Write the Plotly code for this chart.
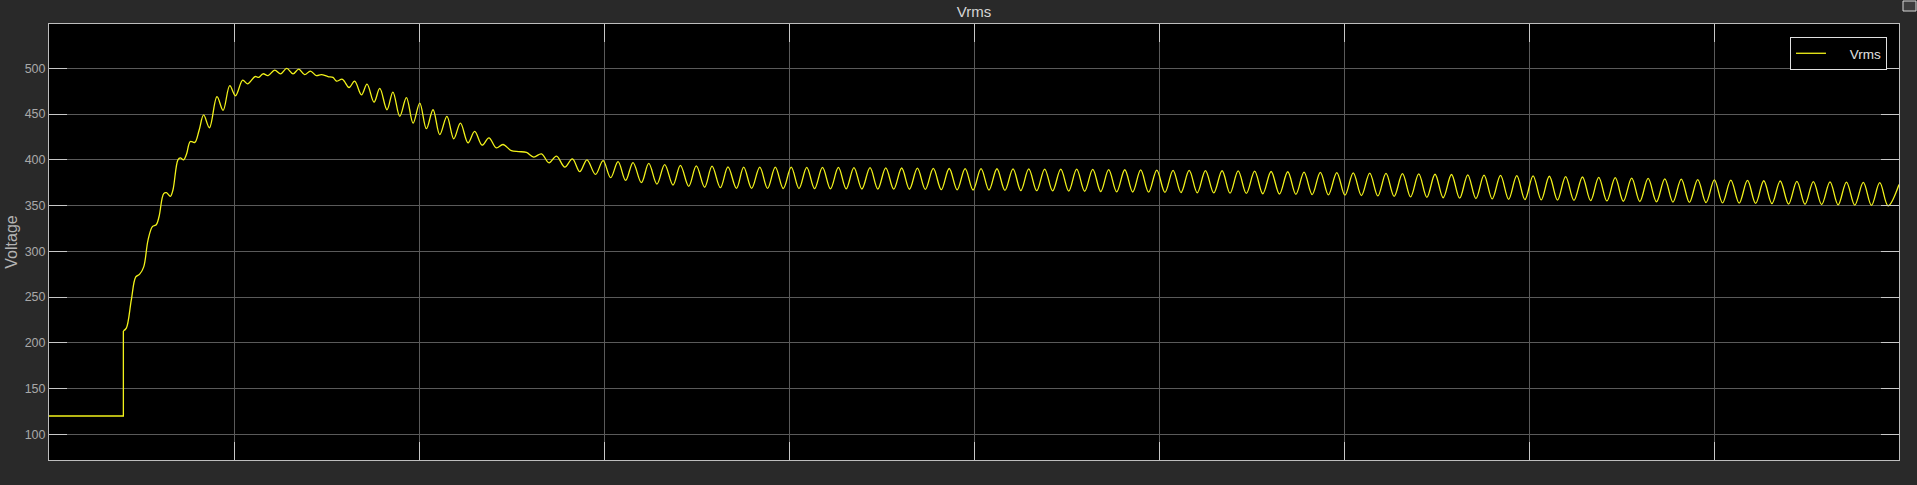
import plotly.graph_objects as go

# ---------------- data ----------------
initial_t = [0.0, 0.402]
initial_v = [120, 120]

rise_t = [0.402, 0.418, 0.445, 0.469, 0.490, 0.512, 0.535, 0.559, 0.580, 0.595,
          0.620, 0.635, 0.656, 0.670, 0.697, 0.710, 0.728, 0.743, 0.764, 0.788,
          0.811, 0.836, 0.867, 0.908, 0.941, 0.977, 1.008, 1.047, 1.073, 1.114,
          1.134, 1.157, 1.184, 1.220, 1.252, 1.285, 1.319, 1.350, 1.382, 1.413,
          1.445, 1.472, 1.508, 1.535]
rise_v = [213, 216, 247, 272, 275, 283, 312, 327, 329, 338,
          363, 364, 360, 367, 400, 402, 400, 406, 420, 419,
          432, 449, 435, 469, 454, 481, 470, 487, 483, 491,
          490, 494, 492, 498, 494, 500, 494, 499, 493, 497,
          492, 493, 491, 490]

decay_t = [1.554, 1.586, 1.622, 1.652, 1.689, 1.719, 1.757, 1.788, 1.827, 1.859,
           1.896, 1.932, 1.968, 2.004, 2.040, 2.076, 2.112, 2.151, 2.188, 2.224,
           2.265, 2.301, 2.341, 2.378, 2.418, 2.454, 2.499, 2.539, 2.581, 2.620,
           2.662, 2.703, 2.743, 2.788, 2.829, 2.869, 2.908, 2.954, 2.995, 3.036,
           3.076, 3.117, 3.157, 3.202, 3.242, 3.286, 3.328, 3.373, 3.413, 3.458,
           3.499, 3.544, 3.584, 3.629, 3.670, 3.716]
decay_v = [486, 488, 479, 486, 471, 482.6, 463, 478, 454.7, 474,
           447.5, 468, 440, 462, 434, 454.7, 427.5, 447.5, 423, 440,
           418.5, 431, 416, 424, 413, 416.7, 410, 409, 408, 403,
           406.5, 396.7, 404, 392, 401, 387, 400, 384, 399, 380.4,
           398, 377.5, 397, 375, 396, 373.5, 394.8, 372.4, 394, 371,
           393.3, 370, 393, 369.5, 392.2, 368.8]

peak_t = [3.755, 3.842, 3.926, 4.012, 4.096,
          4.181, 4.267, 4.351, 4.438, 4.523, 4.609, 4.694,
          4.780, 4.866, 4.952, 5.038, 5.124, 5.211, 5.296, 5.382, 5.469, 5.555,
          5.642, 5.728, 5.815, 5.901, 5.988, 6.076, 6.163, 6.251, 6.341,
          6.428, 6.517, 6.606, 6.696, 6.784, 6.872, 6.961, 7.050, 7.139,
          7.227, 7.316, 7.404, 7.492, 7.581, 7.669, 7.757, 7.846, 7.934,
          8.022, 8.110, 8.198, 8.289, 8.377, 8.466, 8.555, 8.644, 8.734, 8.823,
          8.912, 9.002, 9.091, 9.181, 9.269, 9.358, 9.448, 9.537, 9.627, 9.716, 9.807, 9.896]
peak_v = [392.0, 392.0, 392.0, 391.9, 391.8,
          391.7, 391.6, 391.5, 391.4, 391.2, 391.0, 390.8,
          390.6, 390.5, 390.4, 390.3, 390.2, 390.1, 390.0, 389.9, 389.8, 389.7,
          389.5, 389.3, 389.1, 388.9, 388.7, 388.5, 388.4, 388.2, 388.0,
          387.8, 387.5, 387.2, 386.9, 386.6, 386.3, 386.0, 385.7, 385.4,
          385.1, 384.8, 384.5, 384.2, 383.9, 383.6, 383.3, 383.0, 382.7,
          382.4, 382.0, 381.6, 381.2, 380.8, 380.4, 380.0, 379.6, 379.2, 378.8,
          378.4, 378.0, 377.7, 377.4, 377.1, 376.8, 376.5, 376.2, 375.9, 375.6, 375.3, 375.0]

trough_t = [3.798, 3.884, 3.969, 4.054, 4.138,
            4.224, 4.309, 4.394, 4.480, 4.566, 4.651, 4.737,
            4.823, 4.909, 4.995, 5.081, 5.167, 5.253, 5.339, 5.425, 5.512, 5.598,
            5.685, 5.771, 5.858, 5.944, 6.032, 6.119, 6.207, 6.296, 6.384,
            6.472, 6.561, 6.651, 6.740, 6.828, 6.916, 7.005, 7.094, 7.183,
            7.271, 7.360, 7.448, 7.536, 7.625, 7.713, 7.801, 7.890, 7.978,
            8.066, 8.154, 8.243, 8.333, 8.421, 8.510, 8.599, 8.689, 8.778, 8.867,
            8.957, 9.046, 9.136, 9.225, 9.313, 9.403, 9.492, 9.582, 9.671, 9.761, 9.851, 9.941]
trough_v = [368.8, 368.7, 368.6, 368.5, 368.4,
            368.3, 368.2, 368.1, 368.0, 367.9, 367.8, 367.6,
            367.4, 367.2, 367.0, 366.8, 366.6, 366.4, 366.2, 366.0, 365.8, 365.6,
            365.3, 365.0, 364.8, 364.6, 364.4, 364.2, 364.0, 363.8, 363.5,
            363.2, 362.9, 362.6, 362.3, 362.0, 361.7, 361.3, 360.9, 360.5,
            360.0, 359.5, 359.0, 358.5, 358.0, 357.6, 357.2, 356.8, 356.5,
            356.2, 355.9, 355.6, 355.3, 355.0, 354.7, 354.4, 354.1, 353.8, 353.5,
            353.2, 352.9, 352.6, 352.3, 352.0, 351.7, 351.4, 351.1, 350.8, 350.5, 350.2, 349.7]

end_t = [10.0]
end_v = [373]

# ---------------- build ----------------
steady_t, steady_v = [], []
for pt, pv, tt, tv in zip(peak_t, peak_v, trough_t, trough_v):
    steady_t += [pt, tt]
    steady_v += [pv, tv]

curve_t = rise_t + decay_t + steady_t + end_t
curve_v = rise_v + decay_v + steady_v + end_v

LINE = "#f2f21a"
FONT = "Liberation Sans, Arial, Helvetica, sans-serif"

fig = go.Figure()
fig.add_trace(go.Scatter(
    x=initial_t + [rise_t[0]], y=initial_v + [rise_v[0]],
    mode="lines", name="\u00a0" * 5 + "Vrms", legendgroup="v",
    line=dict(color=LINE, width=1.3, shape="linear"),
))
fig.add_trace(go.Scatter(
    x=curve_t, y=curve_v, mode="lines", name="Vrms", legendgroup="v",
    showlegend=False,
    line=dict(color=LINE, width=1.3, shape="spline", smoothing=1.0),
))

W, H = 1917, 485
L, R, T, B = 49.3, 18, 24, 25
PW, PH = W - L - R, H - T - B

axis_common = dict(
    showgrid=True, gridcolor="#5a5a5a", gridwidth=1,
    showline=True, linecolor="#bdbdbd", linewidth=1, mirror="ticks",
    ticks="inside", ticklen=18, tickcolor="#c8c8c8", tickwidth=1,
    zeroline=False, automargin=False,
)

fig.update_layout(
    width=W, height=H,
    margin=dict(l=L, r=R, t=T, b=B, pad=0, autoexpand=False),
    paper_bgcolor="#292929", plot_bgcolor="#000000",
    font=dict(family=FONT, color="#a8a8a8", size=12.5),
    title=dict(text="Vrms", x=0.5, xref="paper", y=1 - 12 / H, yref="container",
               xanchor="center", yanchor="middle",
               font=dict(family=FONT, size=15, color="#d6d6d6")),
    xaxis=dict(range=[0, 10], dtick=1, tick0=0, showticklabels=False, **axis_common),
    yaxis=dict(range=[71.9, 548.4], dtick=50, tick0=0,
               tickfont=dict(family=FONT, size=12.5, color="#a8a8a8"),
               title=dict(text="Voltage", standoff=3,
                          font=dict(family=FONT, size=16, color="#b4b4b4")),
               **axis_common),
    showlegend=True,
    legend=dict(x=(1790 - L) / PW, xanchor="left",
                y=(H - B - 37) / PH, yanchor="top",
                bgcolor="#000000", bordercolor="#e0e0e0", borderwidth=1,
                font=dict(family=FONT, size=13.5, color="#e0e0e0"),
                itemwidth=30, tracegroupgap=0),
    shapes=[dict(type="rect", xref="paper", yref="paper",
                 x0=(1903 - L) / PW, x1=(1916 - L) / PW,
                 y0=(H - B - 11) / PH, y1=(H - B - 1) / PH,
                 line=dict(color="#d8d8d8", width=1), fillcolor="#3c3c3c")],
)

fig.write_html(
    "out.html",
    config={"displayModeBar": False},
    post_script="document.body.style.margin='0';document.body.style.overflow='hidden';",
)
